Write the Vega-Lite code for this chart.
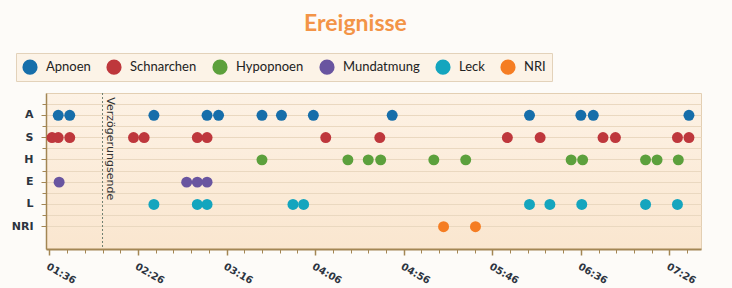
{
  "$schema": "https://vega.github.io/schema/vega-lite/v6.json",
  "width": 655,
  "height": 156,
  "autosize": "none",
  "padding": {"left": 46, "top": 93, "right": 31, "bottom": 39},
  "background": "#fdfbf8",
  "title": {"text": "Ereignisse", "font": "Lato", "fontSize": 23, "fontWeight": "bold", "color": "#f39447", "anchor": "middle", "frame": "group", "baseline": "alphabetic", "offset": -1, "dx": -18},
  "data": {"values": [
    {"t": "2000-01-01T01:41:00", "row": "A", "event": "Apnoen"},
    {"t": "2000-01-01T01:47:30", "row": "A", "event": "Apnoen"},
    {"t": "2000-01-01T02:35:00", "row": "A", "event": "Apnoen"},
    {"t": "2000-01-01T03:05:00", "row": "A", "event": "Apnoen"},
    {"t": "2000-01-01T03:11:30", "row": "A", "event": "Apnoen"},
    {"t": "2000-01-01T03:36:00", "row": "A", "event": "Apnoen"},
    {"t": "2000-01-01T03:47:00", "row": "A", "event": "Apnoen"},
    {"t": "2000-01-01T04:05:00", "row": "A", "event": "Apnoen"},
    {"t": "2000-01-01T04:49:30", "row": "A", "event": "Apnoen"},
    {"t": "2000-01-01T06:07:00", "row": "A", "event": "Apnoen"},
    {"t": "2000-01-01T06:36:00", "row": "A", "event": "Apnoen"},
    {"t": "2000-01-01T06:43:00", "row": "A", "event": "Apnoen"},
    {"t": "2000-01-01T07:37:00", "row": "A", "event": "Apnoen"},
    {"t": "2000-01-01T01:37:30", "row": "S", "event": "Schnarchen"},
    {"t": "2000-01-01T01:41:00", "row": "S", "event": "Schnarchen"},
    {"t": "2000-01-01T01:47:30", "row": "S", "event": "Schnarchen"},
    {"t": "2000-01-01T02:23:30", "row": "S", "event": "Schnarchen"},
    {"t": "2000-01-01T02:29:30", "row": "S", "event": "Schnarchen"},
    {"t": "2000-01-01T02:59:30", "row": "S", "event": "Schnarchen"},
    {"t": "2000-01-01T03:05:00", "row": "S", "event": "Schnarchen"},
    {"t": "2000-01-01T04:12:00", "row": "S", "event": "Schnarchen"},
    {"t": "2000-01-01T04:42:30", "row": "S", "event": "Schnarchen"},
    {"t": "2000-01-01T05:54:30", "row": "S", "event": "Schnarchen"},
    {"t": "2000-01-01T06:13:00", "row": "S", "event": "Schnarchen"},
    {"t": "2000-01-01T06:48:30", "row": "S", "event": "Schnarchen"},
    {"t": "2000-01-01T06:55:30", "row": "S", "event": "Schnarchen"},
    {"t": "2000-01-01T07:30:30", "row": "S", "event": "Schnarchen"},
    {"t": "2000-01-01T07:37:00", "row": "S", "event": "Schnarchen"},
    {"t": "2000-01-01T03:36:00", "row": "H", "event": "Hypopnoen"},
    {"t": "2000-01-01T04:24:30", "row": "H", "event": "Hypopnoen"},
    {"t": "2000-01-01T04:36:00", "row": "H", "event": "Hypopnoen"},
    {"t": "2000-01-01T04:43:00", "row": "H", "event": "Hypopnoen"},
    {"t": "2000-01-01T05:13:00", "row": "H", "event": "Hypopnoen"},
    {"t": "2000-01-01T05:31:00", "row": "H", "event": "Hypopnoen"},
    {"t": "2000-01-01T06:30:30", "row": "H", "event": "Hypopnoen"},
    {"t": "2000-01-01T06:37:00", "row": "H", "event": "Hypopnoen"},
    {"t": "2000-01-01T07:12:30", "row": "H", "event": "Hypopnoen"},
    {"t": "2000-01-01T07:19:00", "row": "H", "event": "Hypopnoen"},
    {"t": "2000-01-01T07:31:00", "row": "H", "event": "Hypopnoen"},
    {"t": "2000-01-01T01:41:30", "row": "E", "event": "Mundatmung"},
    {"t": "2000-01-01T02:53:30", "row": "E", "event": "Mundatmung"},
    {"t": "2000-01-01T02:59:30", "row": "E", "event": "Mundatmung"},
    {"t": "2000-01-01T03:05:00", "row": "E", "event": "Mundatmung"},
    {"t": "2000-01-01T02:35:00", "row": "L", "event": "Leck"},
    {"t": "2000-01-01T02:59:30", "row": "L", "event": "Leck"},
    {"t": "2000-01-01T03:05:00", "row": "L", "event": "Leck"},
    {"t": "2000-01-01T03:53:30", "row": "L", "event": "Leck"},
    {"t": "2000-01-01T03:59:30", "row": "L", "event": "Leck"},
    {"t": "2000-01-01T06:07:00", "row": "L", "event": "Leck"},
    {"t": "2000-01-01T06:18:30", "row": "L", "event": "Leck"},
    {"t": "2000-01-01T06:36:30", "row": "L", "event": "Leck"},
    {"t": "2000-01-01T07:12:30", "row": "L", "event": "Leck"},
    {"t": "2000-01-01T07:30:30", "row": "L", "event": "Leck"},
    {"t": "2000-01-01T05:18:30", "row": "NRI", "event": "NRI"},
    {"t": "2000-01-01T05:36:30", "row": "NRI", "event": "NRI"}
  ]},
  "layer": [
    {
      "mark": {"type": "point", "filled": true, "size": 120, "opacity": 1, "strokeWidth": 0},
      "encoding": {
        "x": {
          "field": "t", "type": "temporal",
          "scale": {"domain": [
            {"year": 2000, "month": 1, "date": 1, "hours": 1, "minutes": 34, "seconds": 6},
            {"year": 2000, "month": 1, "date": 1, "hours": 7, "minutes": 43, "seconds": 48}
          ]},
          "axis": {
            "orient": "bottom", "title": null, "format": "%H:%M", "grid": false,
            "values": [
              {"year": 2000, "month": 1, "date": 1, "hours": 1, "minutes": 36},
              {"year": 2000, "month": 1, "date": 1, "hours": 2, "minutes": 26},
              {"year": 2000, "month": 1, "date": 1, "hours": 3, "minutes": 16},
              {"year": 2000, "month": 1, "date": 1, "hours": 4, "minutes": 6},
              {"year": 2000, "month": 1, "date": 1, "hours": 4, "minutes": 56},
              {"year": 2000, "month": 1, "date": 1, "hours": 5, "minutes": 46},
              {"year": 2000, "month": 1, "date": 1, "hours": 6, "minutes": 36},
              {"year": 2000, "month": 1, "date": 1, "hours": 7, "minutes": 26}
            ],
            "labelAngle": 30, "labelAlign": "left", "labelBaseline": "top",
            "labelFont": "DejaVu Sans", "labelFontSize": 10, "labelFontWeight": "bold", "labelColor": "#2c3440",
            "labelPadding": 6, "labelOverlap": false, "labelFlush": false,
            "tickSize": 6, "tickColor": "#a38654", "tickWidth": 1.5,
            "domainColor": "#a38654", "domainWidth": 2
          }
        },
        "y": {
          "field": "row", "type": "nominal",
          "scale": {"type": "band", "domain": ["A", "S", "H", "E", "L", "NRI"], "paddingInner": 0, "paddingOuter": 0.5},
          "axis": {
            "orient": "left", "title": null, "bandPosition": 0.5,
            "labelFont": "DejaVu Sans", "labelFontSize": 11, "labelFontWeight": "bold", "labelColor": "#2c3440",
            "labelPadding": 8, "tickSize": 5, "tickColor": "#a38654",
            "domainColor": "#a38654", "domainWidth": 1.5,
            "grid": true, "gridColor": "#ead8c0", "gridWidth": 1
          }
        },
        "color": {
          "field": "event", "type": "nominal",
          "scale": {
            "domain": ["Apnoen", "Schnarchen", "Hypopnoen", "Mundatmung", "Leck", "NRI"],
            "range": ["#166eaa", "#be373c", "#5ca03c", "#6955a0", "#14a5be", "#f57d23"]
          },
          "legend": {
            "orient": "none", "legendX": -30, "legendY": -40, "direction": "horizontal", "title": null,
            "symbolType": "circle", "symbolSize": 230, "symbolStrokeWidth": 0,
            "labelFont": "Lato", "labelFontSize": 13, "labelColor": "#222222", "labelOffset": 8,
            "columnPadding": 15, "padding": 6,
            "fillColor": "#fcf3e7", "strokeColor": "#e3d2ba"
          }
        }
      }
    },
    {
      "mark": {"type": "point", "opacity": 0},
      "encoding": {
        "x": {
          "field": "t", "type": "temporal",
          "axis": {
            "orient": "bottom", "title": null, "labels": false, "domain": false, "grid": false,
            "tickSize": 4, "tickColor": "#a38654", "tickWidth": 1,
            "values": [
              {"year": 2000, "month": 1, "date": 1, "hours": 1, "minutes": 36},
              {"year": 2000, "month": 1, "date": 1, "hours": 1, "minutes": 46},
              {"year": 2000, "month": 1, "date": 1, "hours": 1, "minutes": 56},
              {"year": 2000, "month": 1, "date": 1, "hours": 2, "minutes": 6},
              {"year": 2000, "month": 1, "date": 1, "hours": 2, "minutes": 16},
              {"year": 2000, "month": 1, "date": 1, "hours": 2, "minutes": 26},
              {"year": 2000, "month": 1, "date": 1, "hours": 2, "minutes": 36},
              {"year": 2000, "month": 1, "date": 1, "hours": 2, "minutes": 46},
              {"year": 2000, "month": 1, "date": 1, "hours": 2, "minutes": 56},
              {"year": 2000, "month": 1, "date": 1, "hours": 3, "minutes": 6},
              {"year": 2000, "month": 1, "date": 1, "hours": 3, "minutes": 16},
              {"year": 2000, "month": 1, "date": 1, "hours": 3, "minutes": 26},
              {"year": 2000, "month": 1, "date": 1, "hours": 3, "minutes": 36},
              {"year": 2000, "month": 1, "date": 1, "hours": 3, "minutes": 46},
              {"year": 2000, "month": 1, "date": 1, "hours": 3, "minutes": 56},
              {"year": 2000, "month": 1, "date": 1, "hours": 4, "minutes": 6},
              {"year": 2000, "month": 1, "date": 1, "hours": 4, "minutes": 16},
              {"year": 2000, "month": 1, "date": 1, "hours": 4, "minutes": 26},
              {"year": 2000, "month": 1, "date": 1, "hours": 4, "minutes": 36},
              {"year": 2000, "month": 1, "date": 1, "hours": 4, "minutes": 46},
              {"year": 2000, "month": 1, "date": 1, "hours": 4, "minutes": 56},
              {"year": 2000, "month": 1, "date": 1, "hours": 5, "minutes": 6},
              {"year": 2000, "month": 1, "date": 1, "hours": 5, "minutes": 16},
              {"year": 2000, "month": 1, "date": 1, "hours": 5, "minutes": 26},
              {"year": 2000, "month": 1, "date": 1, "hours": 5, "minutes": 36},
              {"year": 2000, "month": 1, "date": 1, "hours": 5, "minutes": 46},
              {"year": 2000, "month": 1, "date": 1, "hours": 5, "minutes": 56},
              {"year": 2000, "month": 1, "date": 1, "hours": 6, "minutes": 6},
              {"year": 2000, "month": 1, "date": 1, "hours": 6, "minutes": 16},
              {"year": 2000, "month": 1, "date": 1, "hours": 6, "minutes": 26},
              {"year": 2000, "month": 1, "date": 1, "hours": 6, "minutes": 36},
              {"year": 2000, "month": 1, "date": 1, "hours": 6, "minutes": 46},
              {"year": 2000, "month": 1, "date": 1, "hours": 6, "minutes": 56},
              {"year": 2000, "month": 1, "date": 1, "hours": 7, "minutes": 6},
              {"year": 2000, "month": 1, "date": 1, "hours": 7, "minutes": 16},
              {"year": 2000, "month": 1, "date": 1, "hours": 7, "minutes": 26},
              {"year": 2000, "month": 1, "date": 1, "hours": 7, "minutes": 36}
            ]
          }
        },
        "y": {
          "field": "row", "type": "nominal",
          "axis": {
            "orient": "left", "title": null, "bandPosition": 0, "labels": false, "domain": false,
            "tickSize": 4, "tickColor": "#a38654",
            "grid": true, "gridColor": "#ead8c0", "gridWidth": 1
          }
        }
      }
    },
    {
      "data": {"values": [{"t": "2000-01-01T02:06:00", "label": "Verzögerungsende"}]},
      "mark": {"type": "rule", "strokeDash": [2, 2], "color": "#6f7f70", "strokeWidth": 1},
      "encoding": {
        "x": {"field": "t", "type": "temporal", "axis": null}
      }
    },
    {
      "data": {"values": [{"t": "2000-01-01T02:06:00", "label": "Verzögerungsende"}]},
      "mark": {"type": "text", "angle": 90, "align": "left", "baseline": "bottom", "dx": -18, "dy": -2, "font": "DejaVu Sans", "fontSize": 11, "color": "#333333"},
      "encoding": {
        "x": {"field": "t", "type": "temporal", "axis": null},
        "y": {"datum": "A", "axis": null},
        "text": {"field": "label"}
      }
    }
  ],
  "resolve": {"axis": {"x": "independent", "y": "independent"}},
  "config": {
    "view": {
      "fill": {"gradient": "linear", "x1": 0, "y1": 0, "x2": 0, "y2": 1, "stops": [{"offset": 0, "color": "#fdf2e5"}, {"offset": 1, "color": "#fae6cf"}]},
      "stroke": "#e3cfb3", "strokeWidth": 1
    }
  }
}
